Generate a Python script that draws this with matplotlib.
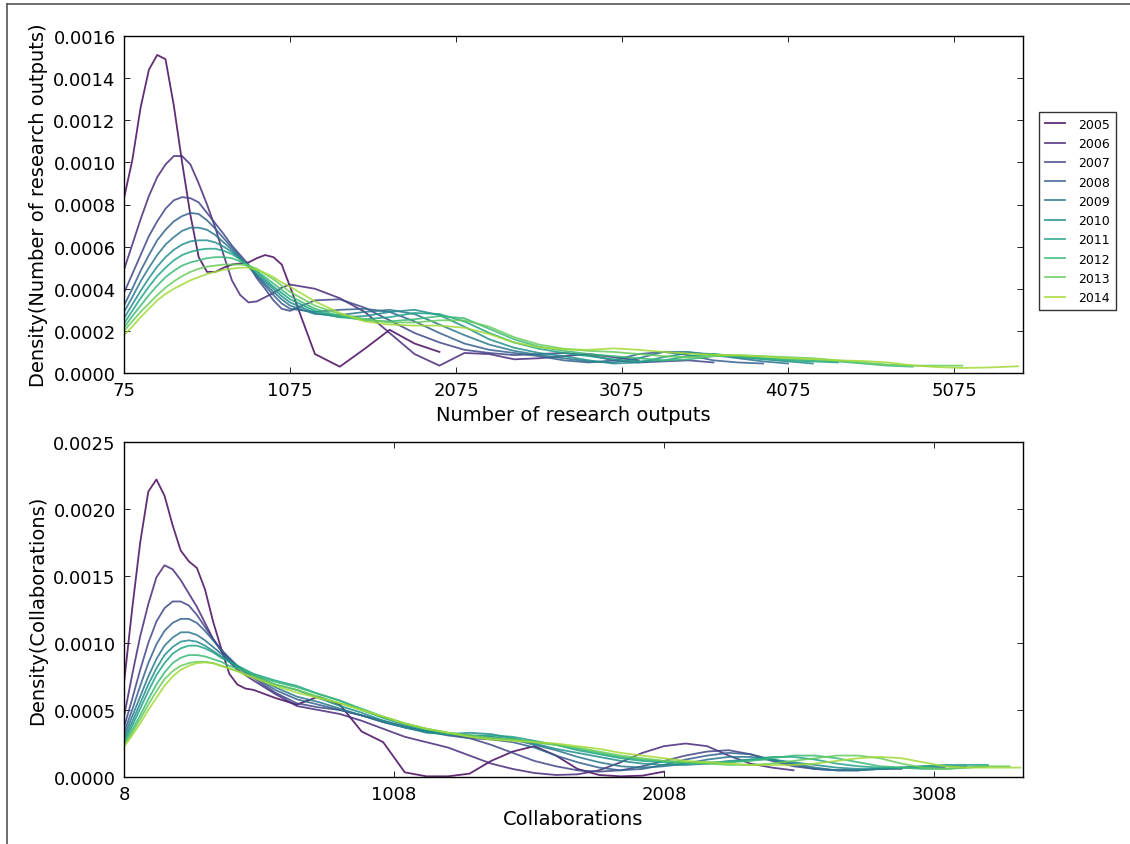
import numpy as np
import matplotlib
matplotlib.use("Agg")
import matplotlib.pyplot as plt
from matplotlib.lines import Line2D

# ---------------- data (density values in units of 1e-4) ----------------
UNIT = 1e-4
years = ["2005", "2006", "2007", "2008", "2009", "2010", "2011", "2012", "2013", "2014"]

# evaluation grid, research outputs
x_outputs = [75, 125, 175, 225, 275, 325, 375, 425, 475, 525, 575, 625, 675, 725, 775,
             825, 875, 925, 975, 1025, 1075, 1225, 1375, 1525, 1675, 1825, 1975, 2125,
             2275, 2425, 2575, 2725, 2875, 3025, 3175, 3325, 3475, 3625, 3775, 3925,
             4075, 4225, 4375, 4525, 4675, 4825, 4975, 5125, 5275, 5460]

out_2005 = [8.3, 10.1, 12.6, 14.4, 15.1, 14.9, 12.7, 10.0, 7.5, 5.5, 4.8, 4.8, 5.0, 5.15,
            5.2, 5.25, 5.45, 5.6, 5.5, 5.15, 4.1, 0.9, 0.3, 1.15, 2.05, 1.4, 1.0]
out_2006 = [4.9, 6.1, 7.3, 8.4, 9.3, 9.9, 10.3, 10.3, 9.9, 9.0, 8.0, 6.9, 5.6, 4.4, 3.7,
            3.35, 3.4, 3.6, 3.8, 4.05, 4.2, 4.0, 3.55, 2.9, 1.9, 0.9, 0.35, 0.95, 0.9, 0.65,
            0.7, 0.8, 0.9, 0.75, 0.6]
out_2007 = [3.8, 4.7, 5.6, 6.5, 7.2, 7.8, 8.2, 8.35, 8.3, 8.1, 7.6, 7.1, 6.6, 6.05, 5.6,
            5.15, 4.5, 4.0, 3.45, 3.05, 2.95, 3.45, 3.5, 3.1, 2.5, 1.9, 1.45, 1.1, 0.95,
            0.85, 0.9, 0.95, 0.85, 0.6, 0.5, 0.55, 0.6, 0.5]
out_2008 = [3.2, 4.0, 4.85, 5.6, 6.3, 6.8, 7.2, 7.45, 7.6, 7.55, 7.25, 6.85, 6.4, 5.95, 5.5,
            5.05, 4.6, 4.15, 3.7, 3.3, 3.05, 2.9, 3.0, 3.05, 2.9, 2.45, 1.9, 1.4, 1.1, 0.95,
            0.8, 0.6, 0.5, 0.6, 0.9, 1.0, 0.85, 0.6, 0.5, 0.45]
out_2009 = [2.9, 3.6, 4.35, 5.0, 5.6, 6.1, 6.45, 6.75, 6.9, 6.9, 6.8, 6.55, 6.2, 5.85, 5.45,
            5.05, 4.65, 4.25, 3.85, 3.5, 3.2, 2.8, 2.75, 2.9, 3.0, 2.8, 2.3, 1.8, 1.35, 1.05,
            0.85, 0.7, 0.55, 0.5, 0.7, 1.0, 1.0, 0.85, 0.7, 0.55, 0.45]
out_2010 = [2.6, 3.25, 3.9, 4.5, 5.05, 5.5, 5.85, 6.1, 6.25, 6.3, 6.3, 6.2, 6.0, 5.75, 5.4,
            5.05, 4.7, 4.35, 4.0, 3.65, 3.35, 2.85, 2.65, 2.7, 2.9, 3.0, 2.75, 2.2, 1.6, 1.2,
            0.95, 0.8, 0.6, 0.45, 0.5, 0.75, 0.95, 0.9, 0.75, 0.65, 0.55, 0.45]
out_2011 = [2.35, 2.95, 3.55, 4.1, 4.6, 5.0, 5.35, 5.6, 5.75, 5.85, 5.9, 5.9, 5.8, 5.65, 5.4,
            5.1, 4.8, 4.45, 4.1, 3.8, 3.5, 2.95, 2.65, 2.55, 2.65, 2.85, 2.8, 2.45, 1.9, 1.45,
            1.15, 0.95, 0.8, 0.65, 0.55, 0.6, 0.8, 0.9, 0.8, 0.7, 0.6, 0.55, 0.5]
out_2012 = [2.15, 2.7, 3.2, 3.7, 4.15, 4.55, 4.85, 5.1, 5.25, 5.35, 5.45, 5.5, 5.5, 5.45, 5.3,
            5.1, 4.85, 4.55, 4.25, 3.95, 3.65, 3.05, 2.7, 2.5, 2.45, 2.55, 2.7, 2.6, 2.1, 1.6,
            1.25, 1.05, 0.9, 0.8, 0.7, 0.6, 0.65, 0.8, 0.8, 0.7, 0.65, 0.6, 0.55, 0.45, 0.35,
            0.3]
out_2013 = [2.0, 2.45, 2.9, 3.3, 3.7, 4.05, 4.35, 4.6, 4.8, 4.95, 5.05, 5.1, 5.15, 5.15, 5.15,
            5.1, 4.95, 4.7, 4.45, 4.15, 3.85, 3.2, 2.8, 2.55, 2.4, 2.4, 2.5, 2.5, 2.2, 1.7,
            1.35, 1.15, 1.05, 1.0, 0.9, 0.8, 0.75, 0.8, 0.85, 0.8, 0.75, 0.7, 0.6, 0.5, 0.4,
            0.35, 0.35, 0.35]
out_2014 = [1.8, 2.2, 2.65, 3.05, 3.45, 3.75, 4.0, 4.2, 4.4, 4.55, 4.7, 4.8, 4.9, 4.95, 5.0,
            5.0, 4.9, 4.75, 4.55, 4.3, 4.1, 3.4, 2.85, 2.45, 2.3, 2.25, 2.25, 2.15, 1.85, 1.45,
            1.22, 1.12, 1.1, 1.17, 1.1, 1.0, 0.92, 0.87, 0.84, 0.78, 0.71, 0.66, 0.6, 0.57,
            0.5, 0.36, 0.28, 0.24, 0.26, 0.32]

# evaluation grid, collaborations
x_collab = [8, 38, 68, 98, 128, 158, 188, 218, 248, 278, 308, 338, 368, 398, 428, 458, 488,
            568, 648, 728, 808, 888, 968, 1048, 1128, 1208, 1288, 1368, 1448, 1528, 1608,
            1688, 1768, 1848, 1928, 2008, 2088, 2168, 2248, 2328, 2408, 2488, 2568, 2648,
            2728, 2808, 2888, 2968, 3048, 3128, 3208, 3288, 3328]

col_2005 = [7.0, 12.5, 17.5, 21.3, 22.2, 21.0, 18.8, 16.9, 16.1, 15.6, 14.0, 11.6, 9.6, 7.7,
            6.9, 6.6, 6.5, 5.9, 5.4, 6.0, 5.4, 3.4, 2.6, 0.35, 0.05, 0.05, 0.25, 1.2, 1.9,
            2.3, 1.6, 0.6, 0.15, 0.05, 0.1, 0.4]
col_2006 = [4.5, 7.6, 10.5, 12.9, 14.9, 15.8, 15.5, 14.7, 13.7, 12.7, 11.5, 10.3, 9.4, 8.6,
            8.0, 7.6, 7.2, 6.2, 5.3, 5.0, 4.7, 4.2, 3.6, 3.0, 2.6, 2.2, 1.6, 1.0, 0.6, 0.3,
            0.15, 0.2, 0.5, 1.1, 1.8, 2.3, 2.5, 2.3, 1.6, 1.0, 0.7, 0.5]
col_2007 = [3.7, 5.8, 8.0, 10.0, 11.6, 12.6, 13.1, 13.1, 12.8, 12.1, 11.2, 10.3, 9.5, 8.8,
            8.2, 7.8, 7.4, 6.3, 5.5, 5.2, 5.0, 4.6, 4.1, 3.7, 3.4, 3.2, 2.9, 2.4, 1.8, 1.2,
            0.8, 0.5, 0.4, 0.5, 0.8, 1.2, 1.6, 1.9, 2.0, 1.7, 1.2, 0.8, 0.6, 0.5, 0.5]
col_2008 = [3.3, 5.0, 6.8, 8.5, 9.9, 10.9, 11.5, 11.8, 11.8, 11.5, 10.9, 10.2, 9.5, 8.9,
            8.3, 7.9, 7.5, 6.5, 5.8, 5.4, 5.0, 4.6, 4.2, 3.8, 3.4, 3.1, 2.9, 2.8, 2.6, 2.2,
            1.6, 1.1, 0.7, 0.5, 0.6, 0.9, 1.3, 1.6, 1.8, 1.7, 1.3, 0.9, 0.6, 0.5, 0.5, 0.6,
            0.6]
col_2009 = [3.0, 4.5, 6.0, 7.5, 8.8, 9.8, 10.4, 10.8, 10.8, 10.6, 10.2, 9.7, 9.2, 8.7, 8.3,
            7.9, 7.6, 6.7, 6.0, 5.6, 5.1, 4.6, 4.1, 3.7, 3.4, 3.2, 3.1, 3.0, 2.8, 2.4, 2.0,
            1.5, 1.1, 0.8, 0.7, 0.8, 1.0, 1.3, 1.5, 1.5, 1.3, 1.0, 0.7, 0.5, 0.5, 0.6, 0.7,
            0.7, 0.7]
col_2010 = [2.8, 4.1, 5.5, 6.9, 8.1, 9.1, 9.7, 10.1, 10.2, 10.1, 9.8, 9.4, 9.0, 8.6, 8.2,
            7.9, 7.6, 6.9, 6.5, 5.9, 5.3, 4.8, 4.2, 3.7, 3.3, 3.2, 3.3, 3.2, 2.9, 2.5, 2.1,
            1.8, 1.5, 1.2, 1.0, 0.9, 0.9, 1.0, 1.2, 1.3, 1.3, 1.1, 0.9, 0.7, 0.6, 0.6, 0.7,
            0.8, 0.8, 0.8]
col_2011 = [2.6, 3.8, 5.1, 6.4, 7.6, 8.5, 9.2, 9.6, 9.8, 9.8, 9.6, 9.3, 8.9, 8.6, 8.3, 8.0,
            7.7, 7.2, 6.8, 6.2, 5.7, 5.0, 4.4, 3.9, 3.5, 3.2, 3.1, 3.1, 3.0, 2.7, 2.4, 2.0,
            1.7, 1.4, 1.2, 1.1, 1.0, 1.0, 1.1, 1.3, 1.5, 1.5, 1.3, 1.0, 0.8, 0.7, 0.7, 0.8,
            0.9, 0.9, 0.9]
col_2012 = [2.45, 3.5, 4.6, 5.8, 6.9, 7.8, 8.5, 8.9, 9.1, 9.1, 9.0, 8.8, 8.6, 8.3, 8.1, 7.9,
            7.6, 7.1, 6.7, 6.2, 5.7, 5.1, 4.5, 4.0, 3.6, 3.3, 3.1, 2.9, 2.8, 2.6, 2.4, 2.1,
            1.8, 1.5, 1.3, 1.2, 1.1, 1.1, 1.1, 1.2, 1.4, 1.6, 1.6, 1.4, 1.1, 0.8, 0.7, 0.6,
            0.6, 0.7, 0.8]
col_2013 = [2.35, 3.3, 4.3, 5.4, 6.4, 7.3, 7.9, 8.3, 8.5, 8.6, 8.6, 8.5, 8.3, 8.1, 7.9, 7.7,
            7.5, 6.9, 6.5, 6.0, 5.5, 5.0, 4.5, 4.0, 3.6, 3.3, 3.1, 2.9, 2.8, 2.6, 2.4, 2.2,
            1.9, 1.6, 1.4, 1.2, 1.1, 1.0, 0.9, 0.9, 1.0, 1.2, 1.4, 1.6, 1.6, 1.4, 1.0, 0.7,
            0.6, 0.7, 0.8, 0.8]
col_2014 = [2.25, 3.1, 4.0, 5.0, 5.9, 6.8, 7.5, 8.0, 8.3, 8.5, 8.55, 8.5, 8.3, 8.1, 7.9,
            7.6, 7.4, 6.8, 6.3, 5.9, 5.5, 5.0, 4.5, 4.0, 3.6, 3.3, 3.0, 2.8, 2.7, 2.6, 2.5,
            2.3, 2.1, 1.8, 1.6, 1.4, 1.2, 1.1, 1.0, 0.9, 0.9, 0.9, 1.0, 1.2, 1.4, 1.5, 1.4,
            1.1, 0.8, 0.7, 0.7, 0.7, 0.7]

outputs_series = [out_2005, out_2006, out_2007, out_2008, out_2009,
                  out_2010, out_2011, out_2012, out_2013, out_2014]
collab_series = [col_2005, col_2006, col_2007, col_2008, col_2009,
                 col_2010, col_2011, col_2012, col_2013, col_2014]

out_xticks = [75, 1075, 2075, 3075, 4075, 5075]
out_yticks = [0.0, 0.0002, 0.0004, 0.0006, 0.0008, 0.0010, 0.0012, 0.0014, 0.0016]
col_xticks = [8, 1008, 2008, 3008]
col_yticks = [0.0, 0.0005, 0.0010, 0.0015, 0.0020, 0.0025]

# ---------------- style ----------------
plt.rcParams.update({
    "font.family": "DejaVu Sans",
    "xtick.direction": "in", "ytick.direction": "in",
    "xtick.top": True, "ytick.right": True,
    "xtick.major.size": 4, "ytick.major.size": 4,
    "xtick.major.width": 0.6, "ytick.major.width": 0.6,
    "axes.linewidth": 1.0,
})

W, H = 1130, 845
fig = plt.figure(figsize=(W / 100, H / 100), dpi=100, facecolor="white")

def fx(px):
    return px / W

def fy(py):
    return 1 - py / H

ax1 = fig.add_axes([fx(124), fy(374), fx(1023) - fx(124), fy(37) - fy(374)])
ax2 = fig.add_axes([fx(124), fy(778), fx(1023) - fx(124), fy(443) - fy(778)])

cmap = plt.get_cmap("viridis")
colors = [cmap(b) for b in np.linspace(0.02, 0.86, len(years))]

for yr, vals, c in zip(years, outputs_series, colors):
    ax1.plot(x_outputs[:len(vals)], np.array(vals) * UNIT, color=c, lw=1.3, alpha=0.85, label=yr)
for yr, vals, c in zip(years, collab_series, colors):
    ax2.plot(x_collab[:len(vals)], np.array(vals) * UNIT, color=c, lw=1.3, alpha=0.85, label=yr)

TICK_FS = 13
LABEL_FS = 14

ax1.set_xlim(75, 5490)
ax1.set_ylim(0, 0.0016)
ax1.set_xticks(out_xticks)
ax1.set_xticklabels([str(t) for t in out_xticks])
ax1.set_yticks(out_yticks)
ax1.set_yticklabels(["%.4f" % t for t in out_yticks])
ax1.set_xlabel("Number of research outputs", fontsize=LABEL_FS)
ax1.set_ylabel("Density(Number of research outputs)", fontsize=LABEL_FS)

ax2.set_xlim(8, 3338)
ax2.set_ylim(0, 0.0025)
ax2.set_xticks(col_xticks)
ax2.set_xticklabels([str(t) for t in col_xticks])
ax2.set_yticks(col_yticks)
ax2.set_yticklabels(["%.4f" % t for t in col_yticks])
ax2.set_xlabel("Collaborations", fontsize=LABEL_FS)
ax2.set_ylabel("Density(Collaborations)", fontsize=LABEL_FS)

for ax in (ax1, ax2):
    ax.tick_params(labelsize=TICK_FS, pad=6)
    for sp in ax.spines.values():
        sp.set_color("black")

leg = ax1.legend(loc="center left", bbox_to_anchor=(1.018, 0.481), fontsize=9,
                 frameon=True, fancybox=False, handlelength=1.6, handletextpad=1.0,
                 labelspacing=0.5, borderpad=0.5, borderaxespad=0)
leg.get_frame().set_edgecolor("black")
leg.get_frame().set_linewidth(1.0)

# screenshot frame lines (top and left)
fig.add_artist(Line2D([fx(7), 1], [fy(5), fy(5)], transform=fig.transFigure,
                      color="#555555", lw=1.2))
fig.add_artist(Line2D([fx(7), fx(7)], [0, fy(5)], transform=fig.transFigure,
                      color="#555555", lw=1.2))

fig.savefig("out.png", dpi=100, facecolor="white")
